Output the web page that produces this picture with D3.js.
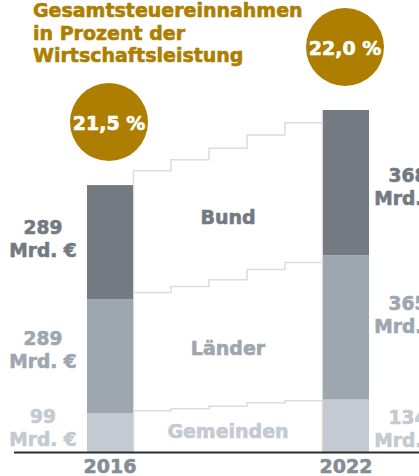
<!DOCTYPE html>
<html>
<head>
<meta charset="utf-8">
<script src="https://cdn.jsdelivr.net/npm/d3@7"></script>
<style>
  body { margin: 0; background: #fff; }
  svg { display: block; font-family: "DejaVu Sans", sans-serif; font-weight: bold; }
  text { stroke-width: 0.6px; stroke-linejoin: round; }
</style>
</head>
<body>
<div id="chart"></div>
<script>
const width = 419, height = 476;

// data
const years = ["2016", "2022"];
const series = ["Bund", "Länder", "Gemeinden"];
const bund = [289, 368];
const laender = [289, 365];
const gemeinden = [99, 134];
const quote = ["21,5 %", "22,0 %"];
// years in between (staircase)
const midYears = [2017, 2018, 2019, 2020, 2021];
const midBund = [308, 321, 333, 341, 354];
const midLaender = [299, 309, 320, 337, 350];
const midGemeinden = [106, 111, 117, 126, 131];
const titleLines = ["Gesamtsteuereinnahmen", "in Prozent der", "Wirtschaftsleistung"];

const colors = { "Bund": "#737a82", "Länder": "#9ea7b0", "Gemeinden": "#c3cad1" };
const gold = "#ad7e00";

var svg = d3.select("#chart")
  .append("svg")
  .attr("width", width)
  .attr("height", height);

// stacked values, bottom to top: Gemeinden, Länder, Bund
const rows = years.map((y, i) => ({ year: y, Gemeinden: gemeinden[i], "Länder": laender[i], Bund: bund[i] }));
const stack = d3.stack().keys(["Gemeinden", "Länder", "Bund"]);
const stacked = stack(rows);

const midRows = midYears.map((y, i) => ({ year: y, Gemeinden: midGemeinden[i], "Länder": midLaender[i], Bund: midBund[i] }));
const midStacked = stack(midRows);

const y = d3.scaleLinear()
  .domain([0, d3.max(rows, d => d.Gemeinden + d["Länder"] + d.Bund)])
  .range([452.5, 110]);

const x = d3.scalePoint().domain(years).range([110, 346]);
const barW = 46;

const xMid = d3.scaleBand().domain(midYears).range([x("2016") + barW / 2, x("2022") - barW / 2]);

// title
svg.append("g").selectAll("text")
  .data(titleLines)
  .enter().append("text")
  .attr("x", 33)
  .attr("y", (d, i) => 17 + i * 22.5)
  .attr("fill", gold)
  .attr("stroke", gold)
  .style("font-size", "19px")
  .text(d => d);

// staircase lines
const stairs = svg.append("g")
  .attr("fill", "none")
  .attr("stroke", "#dcdcdc")
  .attr("stroke-width", 1.5);

const stepLine = d3.line().curve(d3.curveStepAfter);
midStacked.forEach(s => {
  const pts = s.map((d, i) => [xMid(midYears[i]), y(d[1])]);
  pts.push([xMid(midYears[midYears.length - 1]) + xMid.bandwidth(), y(s[s.length - 1][1])]);
  stairs.append("path").attr("d", stepLine(pts));
});

// light lines along the bar edges
stairs.append("line")
  .attr("x1", x("2016") + barW / 2 + 0.5).attr("x2", x("2016") + barW / 2 + 0.5)
  .attr("y1", y(midStacked[2][0][1])).attr("y2", y(0));
stairs.append("line")
  .attr("x1", x("2022") - barW / 2 - 0.5).attr("x2", x("2022") - barW / 2 - 0.5)
  .attr("y1", y(stacked[2][1][1])).attr("y2", y(0));

// bars
svg.append("g")
  .selectAll("g")
  .data(stacked)
  .enter().append("g")
  .attr("fill", d => colors[d.key])
  .selectAll("rect")
  .data(d => d)
  .enter().append("rect")
  .attr("x", d => x(d.data.year) - barW / 2)
  .attr("y", d => y(d[1]))
  .attr("width", barW)
  .attr("height", d => y(d[0]) - y(d[1]));

// value labels beside the bars
const labelX = [43, 408];
const labelShift = {
  "Bund": [-4, 3.5],
  "Länder": [-7, -13],
  "Gemeinden": [-5.5, 2.5]
};
stacked.forEach(s => {
  s.forEach((d, i) => {
    const c = (y(d[0]) + y(d[1])) / 2 + labelShift[s.key][i];
    const t = svg.append("text")
      .attr("text-anchor", "middle")
      .attr("fill", colors[s.key])
      .attr("stroke", colors[s.key])
      .style("font-size", "18.6px");
    t.append("tspan").attr("x", labelX[i]).attr("y", c - 4.5).text(d[1] - d[0]);
    t.append("tspan").attr("x", labelX[i]).attr("y", c + 18.5).text("Mrd. €");
  });
});

// series names in the middle
const nameShift = { "Bund": 3, "Länder": 4.5, "Gemeinden": 1.3 };
midStacked.forEach(s => {
  const d = s[2];
  svg.append("text")
    .attr("x", xMid(midYears[2]) + xMid.bandwidth() / 2)
    .attr("y", (y(d[0]) + y(d[1])) / 2 + 7 + nameShift[s.key])
    .attr("text-anchor", "middle")
    .attr("fill", colors[s.key])
    .attr("stroke", colors[s.key])
    .style("font-size", "19px")
    .text(s.key);
});

// baseline
svg.append("line")
  .attr("x1", 14).attr("x2", width)
  .attr("y1", y(0)).attr("y2", y(0))
  .attr("stroke", "#2a2d31")
  .attr("stroke-width", 2);

// year labels
svg.append("g").selectAll("text")
  .data(years)
  .enter().append("text")
  .attr("x", d => x(d))
  .attr("y", 473)
  .attr("text-anchor", "middle")
  .attr("fill", "#858d95")
  .attr("stroke", "#858d95")
  .style("font-size", "19px")
  .text(d => d);

// percentage badges
const totals = rows.map(d => d.Gemeinden + d["Länder"] + d.Bund);
const badges = svg.append("g").selectAll("g")
  .data(years)
  .enter().append("g")
  .attr("transform", (d, i) => `translate(${x(d) - 1},${y(totals[i]) - 63})`);

badges.append("circle")
  .attr("r", 39)
  .attr("fill", gold);

badges.append("text")
  .attr("text-anchor", "middle")
  .attr("y", 8)
  .attr("fill", "#fff")
  .attr("stroke", "#fff")
  .style("font-size", "19px")
  .text((d, i) => quote[i]);
</script>
</body>
</html>
